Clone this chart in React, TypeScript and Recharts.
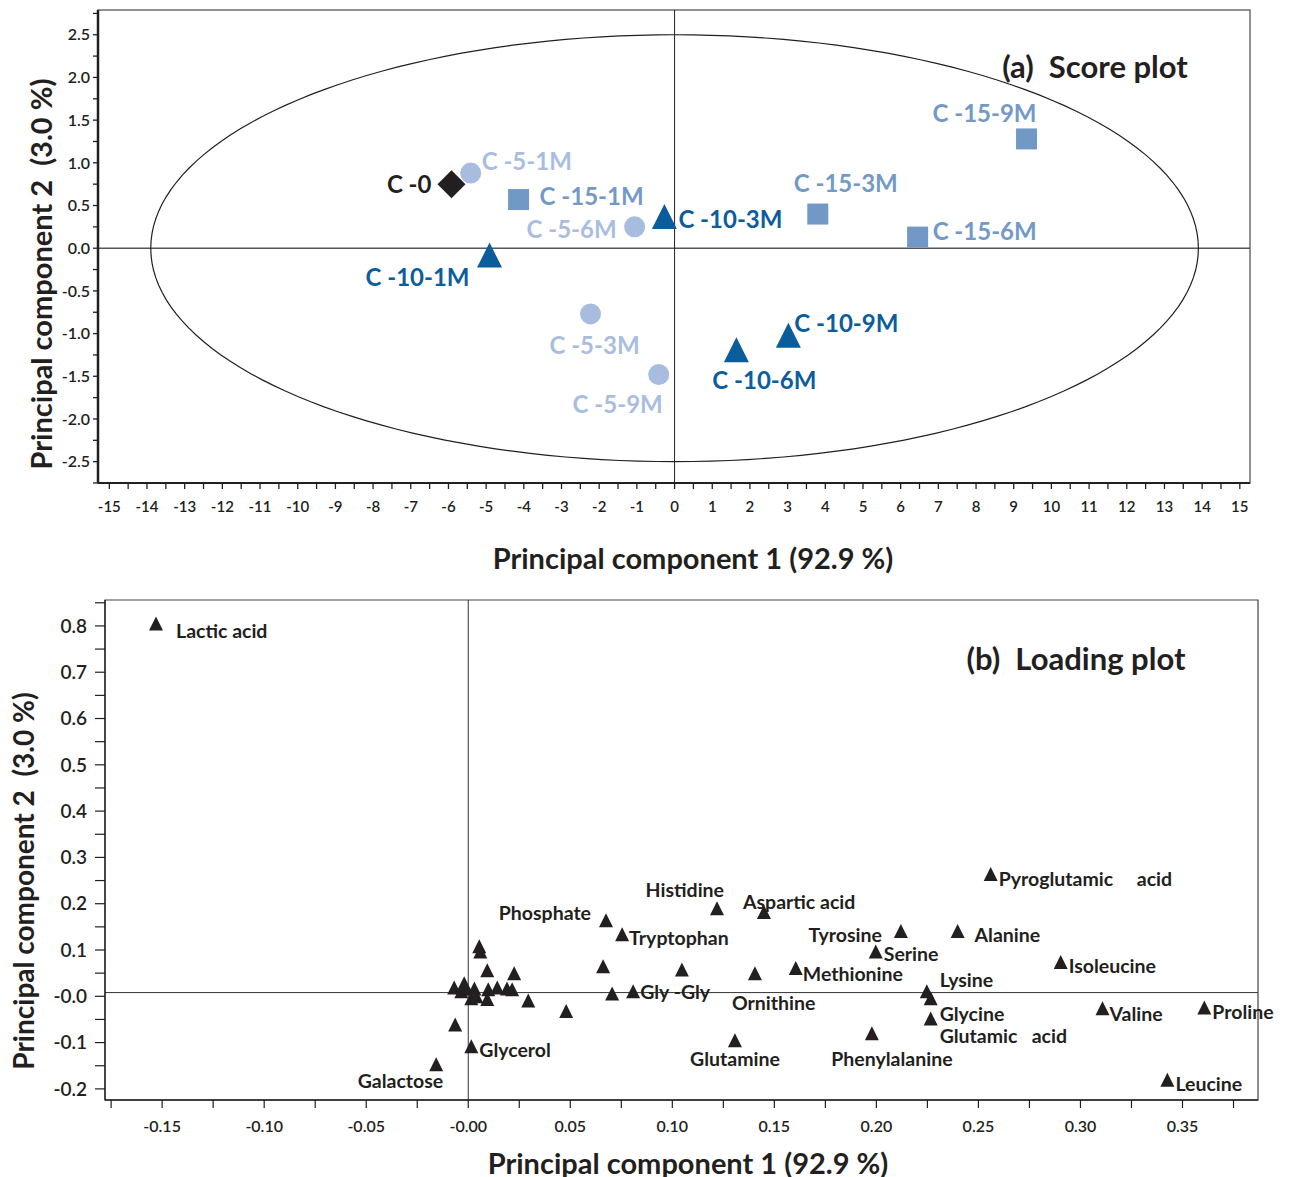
import React from 'react';
import { ScatterChart, Scatter, XAxis, YAxis, ReferenceLine, ReferenceArea } from 'recharts';

// ---- (a) score plot ----
const c0Labels = ['C -0'];
const c0Pc1 = [-5.92];
const c0Pc2 = [0.75];

const c5Labels = ['C -5-1M', 'C -5-3M', 'C -5-6M', 'C -5-9M'];
const c5Pc1 = [-5.41, -2.23, -1.06, -0.42];
const c5Pc2 = [0.88, -0.77, 0.25, -1.48];

const c10Labels = ['C -10-1M', 'C -10-3M', 'C -10-6M', 'C -10-9M'];
const c10Pc1 = [-4.91, -0.27, 1.64, 3.02];
const c10Pc2 = [-0.08, 0.37, -1.19, -1.02];

const c15Labels = ['C -15-1M', 'C -15-3M', 'C -15-6M', 'C -15-9M'];
const c15Pc1 = [-4.14, 3.8, 6.45, 9.34];
const c15Pc2 = [0.57, 0.4, 0.13, 1.28];

// confidence ellipse semi-axes (PC1, PC2)
const ellipseA = 13.9;
const ellipseB = 2.5;

const scoreXMajor = [-15, -14, -13, -12, -11, -10, -9, -8, -7, -6, -5, -4, -3, -2, -1, 0, 1, 2, 3, 4, 5, 6, 7, 8, 9, 10, 11, 12, 13, 14, 15];
const scoreYMajor = [-2.5, -2, -1.5, -1, -0.5, 0, 0.5, 1, 1.5, 2, 2.5];

// ---- (b) loading plot ----
const loadNames = [
  'Lactic acid', 'Galactose', 'Glycerol', 'Phosphate', 'Tryptophan', 'Histidine', 'Aspartic acid',
  'Gly -Gly', 'Ornithine', 'Glutamine', 'Methionine', 'Tyrosine', 'Serine', 'Alanine', 'Lysine',
  'Glycine', 'Glutamic   acid', 'Phenylalanine', 'Pyroglutamic     acid', 'Isoleucine', 'Valine',
  'Proline', 'Leucine',
];
const loadPc1 = [
  -0.153, -0.0157, 0.0015, 0.0675, 0.0754, 0.1219, 0.1449,
  0.0808, 0.1405, 0.1307, 0.1605, 0.212, 0.1997, 0.2398, 0.2247,
  0.2266, 0.2266, 0.1978, 0.256, 0.2903, 0.3108,
  0.3607, 0.3426,
];
const loadPc2 = [
  0.805, -0.147, -0.108, 0.164, 0.134, 0.19, 0.182,
  0.011, 0.05, -0.095, 0.061, 0.141, 0.097, 0.141, 0.011,
  -0.004, -0.048, -0.08, 0.264, 0.074, -0.026,
  -0.024, -0.18,
];
// unlabelled variables
const otherPc1 = [0.0661, 0.0705, 0.1047, 0.048, 0.0294, 0.0225, 0.0215, 0.019, 0.0142, 0.0098, 0.0093, 0.0093, 0.0054, 0.0059, -0.0064, -0.0069, -0.002, -0.001, 0.003, 0.0015, 0.004, -0.0034];
const otherPc2 = [0.065, 0.006, 0.058, -0.032, -0.009, 0.05, 0.015, 0.017, 0.019, 0.015, 0.056, -0.006, 0.108, 0.097, -0.061, 0.019, 0.028, 0.017, 0.017, -0.004, 0.0, 0.011];

const loadXMajor = [-0.15, -0.1, -0.05, 0, 0.05, 0.1, 0.15, 0.2, 0.25, 0.3, 0.35];
const loadYMajor = [-0.2, -0.1, 0, 0.1, 0.2, 0.3, 0.4, 0.5, 0.6, 0.7, 0.8];

type Anchor = 'start' | 'middle' | 'end';
type Place = [number, number, Anchor];

// label offsets from marker centre
const scorePlace: Record<string, Place> = {
  'C -0': [-20, -1, 'end'],
  'C -5-1M': [11, -13, 'start'],
  'C -15-1M': [21, -4, 'start'],
  'C -5-6M': [-18, 2, 'end'],
  'C -10-3M': [14, 2, 'start'],
  'C -10-1M': [-20, 21, 'end'],
  'C -15-3M': [28, -32, 'middle'],
  'C -5-3M': [4, 31, 'middle'],
  'C -5-9M': [4, 29, 'end'],
  'C -10-6M': [28, 30, 'middle'],
  'C -10-9M': [6, -13, 'start'],
  'C -15-9M': [10, -26, 'end'],
  'C -15-6M': [15, -7, 'start'],
};

const loadPlace: Record<string, Place> = {
  'Lactic acid': [20, 7, 'start'],
  'Galactose': [7, 16, 'end'],
  'Glycerol': [8, 3, 'start'],
  'Phosphate': [-15, -8, 'end'],
  'Tryptophan': [7, 3, 'start'],
  'Histidine': [7, -19, 'end'],
  'Aspartic acid': [-21, -11, 'start'],
  'Gly -Gly': [7, 0, 'start'],
  'Ornithine': [-23, 29, 'start'],
  'Glutamine': [0, 18, 'middle'],
  'Methionine': [7, 5, 'start'],
  'Tyrosine': [-19, 3, 'end'],
  'Serine': [8, 2, 'start'],
  'Alanine': [17, 3, 'start'],
  'Lysine': [13, -12, 'start'],
  'Glycine': [9, 15, 'start'],
  'Glutamic   acid': [9, 17, 'start'],
  'Phenylalanine': [20, 25, 'middle'],
  'Pyroglutamic     acid': [8, 4, 'start'],
  'Isoleucine': [8, 3, 'start'],
  'Valine': [7, 5, 'start'],
  'Proline': [8, 4, 'start'],
  'Leucine': [8, 4, 'start'],
};

const INK = '#231f20';
const FONT = 'Lato, "Open Sans", sans-serif';

const zip = (names: string[], xs: number[], ys: number[]) =>
  xs.map((x, i) => ({ name: names[i] ?? '', x, y: ys[i] }));

const withMinors = (major: number[], extra: number[]) =>
  [...major, ...major.slice(0, -1).map((v, i) => (v + major[i + 1]) / 2), ...extra].sort((a, b) => a - b);

const isMajor = (major: number[], v: number) => major.some((m) => Math.abs(m - v) < 1e-9);

const ellipseData = Array.from({ length: 181 }, (_, i) => {
  const t = (i / 180) * 2 * Math.PI;
  return { x: ellipseA * Math.cos(t), y: ellipseB * Math.sin(t) };
});

type Kind = 'diamond' | 'circle' | 'square' | 'triangle';

const marker = (kind: Kind, cx: number, cy: number, size: number, color: string) => {
  const h = size / 2;
  if (kind === 'diamond') return <polygon points={`${cx},${cy - h} ${cx + h},${cy} ${cx},${cy + h} ${cx - h},${cy}`} fill={color} />;
  if (kind === 'circle') return <circle cx={cx} cy={cy} r={h} fill={color} />;
  if (kind === 'square') return <rect x={cx - h} y={cy - h} width={size} height={size} fill={color} />;
  return <polygon points={`${cx},${cy - h} ${cx + h},${cy + h} ${cx - h},${cy + h}`} fill={color} />;
};

const makeShape = (kind: Kind, size: number, color: string, textColor: string, places: Record<string, Place>, fontSize: number) =>
  (props: any) => {
    const { cx, cy, payload } = props;
    const p = places[payload?.name];
    return (
      <g>
        {marker(kind, cx, cy, size, color)}
        {p && (
          <text x={cx + p[0]} y={cy + p[1]} textAnchor={p[2]} dominantBaseline="central" fill={textColor}
            fontSize={fontSize} fontWeight={700} fontFamily={FONT} style={{ whiteSpace: 'pre' }}>
            {payload.name}
          </text>
        )}
      </g>
    );
  };

const tickStyle = (size: number) => ({ fill: INK, fontSize: size, fontFamily: FONT, fontWeight: 600 });

const titleStyle = (left: number, top: number, size: number, rotate = false): React.CSSProperties => ({
  position: 'absolute', left, top, fontSize: size, fontWeight: 700, fontFamily: FONT, color: INK,
  lineHeight: 1, whiteSpace: 'pre',
  transform: `translate(-50%, -50%)${rotate ? ' rotate(-90deg)' : ''}`,
});

const App: React.FC = () => {
  const scoreXTicks = withMinors(scoreXMajor, []);
  const scoreYTicks = withMinors(scoreYMajor, [-2.75, 2.75]);
  const loadXTicks = withMinors(loadXMajor, [-0.175, 0.375]);
  const loadYTicks = withMinors(loadYMajor, [0.85]);

  return (
    <div style={{ position: 'absolute', left: 0, top: 0, width: 1293, height: 1177, background: '#fff' }}>
      <div style={{ position: 'absolute', left: 0, top: 0 }}>
        <ScatterChart width={1293} height={590} margin={{ top: 10, right: 43, bottom: 0, left: 0 }}>
          <XAxis type="number" dataKey="x" domain={[-15.3, 15.27]} ticks={scoreXTicks} interval={0}
            tickFormatter={(v: number) => (isMajor(scoreXMajor, v) ? String(v) : '')}
            height={107} tickSize={6} tickMargin={12} tick={tickStyle(15)}
            axisLine={{ stroke: INK, strokeWidth: 2 }} tickLine={{ stroke: INK, strokeWidth: 1.3 }} />
          <YAxis type="number" dataKey="y" domain={[-2.75, 2.79]} ticks={scoreYTicks} interval={0}
            tickFormatter={(v: number) => (isMajor(scoreYMajor, v) ? v.toFixed(1) : '')}
            width={98} tickSize={5} tickMargin={3} tick={tickStyle(16)}
            axisLine={{ stroke: INK, strokeWidth: 2.5 }} tickLine={{ stroke: INK, strokeWidth: 1.3 }} />
          <ReferenceArea x1={-15.3} x2={15.27} y1={-2.75} y2={2.79} fill="none" stroke="#6d6d6d" strokeWidth={1.5} />
          <ReferenceLine y={0} stroke="#555" strokeWidth={1.5} />
          <ReferenceLine x={0} stroke={INK} strokeWidth={1} />
          <Scatter data={ellipseData} line={{ stroke: INK, strokeWidth: 1.2 }} lineType="joint"
            shape={() => <g />} isAnimationActive={false} />
          <Scatter data={zip(c0Labels, c0Pc1, c0Pc2)} shape={makeShape('diamond', 28, INK, INK, scorePlace, 24)} isAnimationActive={false} />
          <Scatter data={zip(c5Labels, c5Pc1, c5Pc2)} shape={makeShape('circle', 21, '#a7bcdf', '#a9bedf', scorePlace, 24)} isAnimationActive={false} />
          <Scatter data={zip(c15Labels, c15Pc1, c15Pc2)} shape={makeShape('square', 21, '#7299c6', '#7399c7', scorePlace, 24)} isAnimationActive={false} />
          <Scatter data={zip(c10Labels, c10Pc1, c10Pc2)} shape={makeShape('triangle', 25, '#0a5c9b', '#0b5d9e', scorePlace, 24)} isAnimationActive={false} />
        </ScatterChart>
      </div>

      <div style={{ position: 'absolute', left: 0, top: 590 }}>
        <ScatterChart width={1293} height={587} margin={{ top: 10, right: 35, bottom: 0, left: 0 }}>
          <XAxis type="number" dataKey="x" domain={[-0.178, 0.387]} ticks={loadXTicks} interval={0}
            tickFormatter={(v: number) => (isMajor(loadXMajor, v) ? (Math.abs(v) < 1e-9 ? '-0.00' : v.toFixed(2)) : '')}
            height={77} tickSize={8} tickMargin={13} tick={tickStyle(16)}
            axisLine={{ stroke: INK, strokeWidth: 1.3 }} tickLine={{ stroke: INK, strokeWidth: 1.2 }} />
          <YAxis type="number" dataKey="y" domain={[-0.224, 0.856]} ticks={loadYTicks} interval={0}
            tickFormatter={(v: number) => (isMajor(loadYMajor, v) ? (Math.abs(v) < 1e-9 ? '-0.0' : v.toFixed(1)) : '')}
            width={105} tickSize={10} tickMargin={8} tick={tickStyle(19)}
            axisLine={{ stroke: INK, strokeWidth: 1.3 }} tickLine={{ stroke: INK, strokeWidth: 1.2 }} />
          <ReferenceArea x1={-0.178} x2={0.387} y1={-0.224} y2={0.856} fill="none" stroke="#444" strokeWidth={1.2} />
          <ReferenceLine y={0.008} stroke="#333" strokeWidth={1} />
          <ReferenceLine x={0} stroke="#333" strokeWidth={1} />
          <Scatter data={zip([], otherPc1, otherPc2)} shape={makeShape('triangle', 14, INK, INK, loadPlace, 19.5)} isAnimationActive={false} />
          <Scatter data={zip(loadNames, loadPc1, loadPc2)} shape={makeShape('triangle', 14, INK, INK, loadPlace, 19.5)} isAnimationActive={false} />
        </ScatterChart>
      </div>

      <div style={titleStyle(1095, 66, 31)}>{'(a)  Score plot'}</div>
      <div style={titleStyle(693, 557, 29)}>{'Principal component 1 (92.9 %)'}</div>
      <div style={titleStyle(40, 274, 29, true)}>{'Principal component 2  (3.0 %)'}</div>

      <div style={titleStyle(1076, 658, 31)}>{'(b)  Loading plot'}</div>
      <div style={titleStyle(688, 1162, 29)}>{'Principal component 1 (92.9 %)'}</div>
      <div style={titleStyle(23, 881, 28, true)}>{'Principal component 2  (3.0 %)'}</div>
    </div>
  );
};

export default App;
